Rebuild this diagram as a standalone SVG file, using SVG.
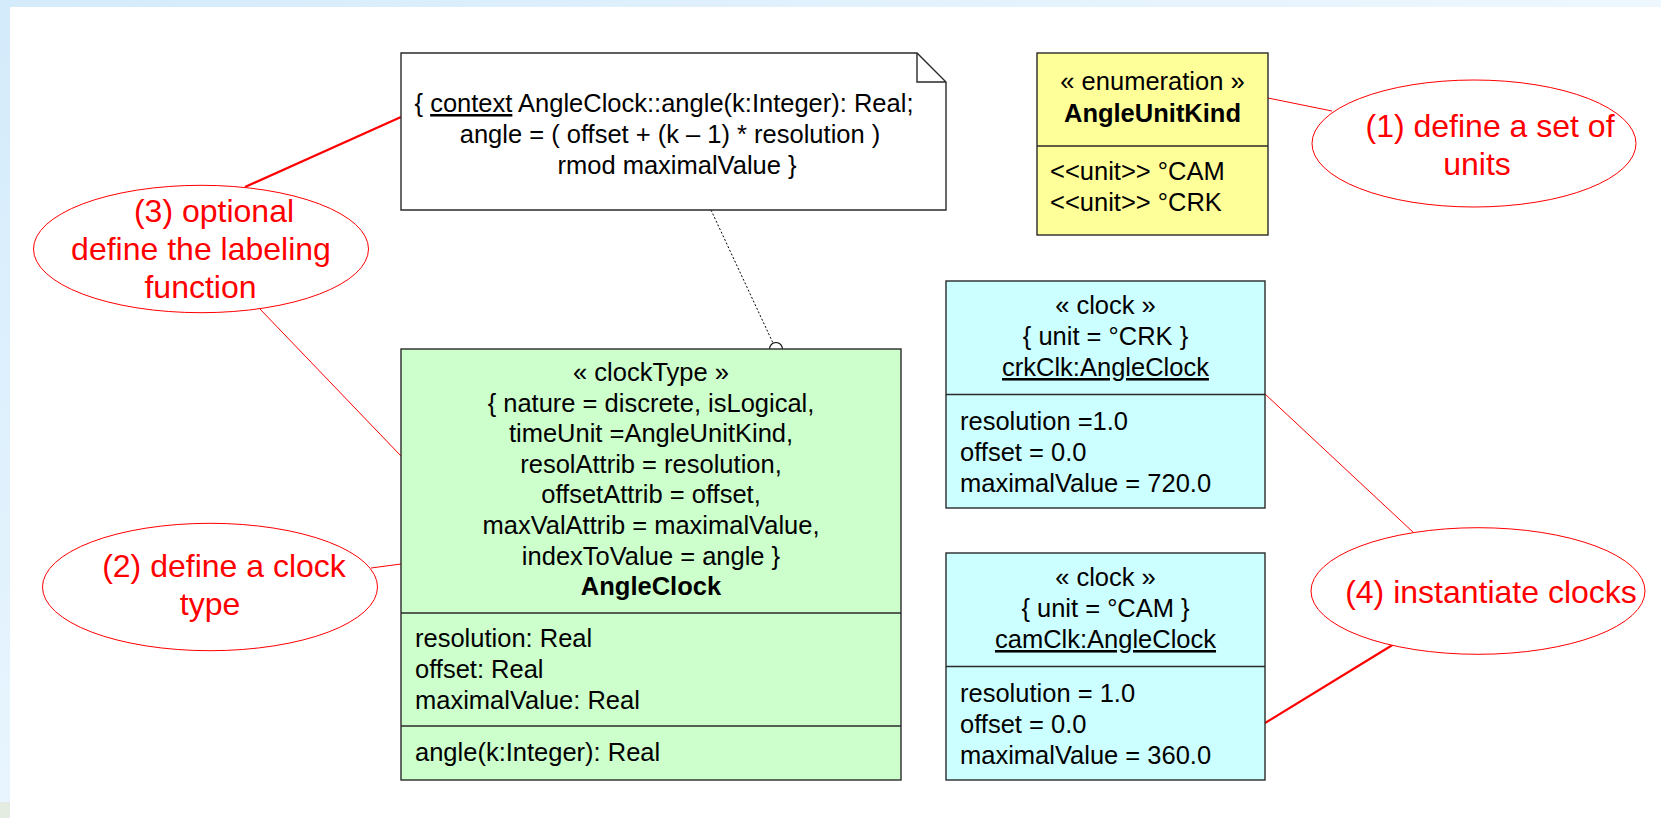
<svg xmlns="http://www.w3.org/2000/svg" width="1661" height="818" viewBox="0 0 1661 818">
<defs>
<linearGradient id="topband" x1="0" y1="0" x2="1" y2="0">
<stop offset="0" stop-color="#d4ebfb"/>
<stop offset="1" stop-color="#eef7fe"/>
</linearGradient>
<linearGradient id="leftband" x1="0" y1="0" x2="0" y2="1">
<stop offset="0" stop-color="#d4ebfb"/>
<stop offset="1" stop-color="#e8f5fe"/>
</linearGradient>
<style>
.t{font-family:"Liberation Sans",Arial,sans-serif;font-size:25.5px;fill:#000}
.c{text-anchor:middle}
.b{font-weight:bold}
.r{font-family:"Liberation Sans",Arial,sans-serif;font-size:32px;fill:#ff0000;text-anchor:middle}
.box{stroke:#2a2a2a;stroke-width:1.4}
.ell{fill:#fff;stroke:#ff0000;stroke-width:1}
.thin{stroke:#ff0000;stroke-width:1;fill:none}
.thick{stroke:#ff0000;stroke-width:2.2;fill:none}
</style>
</defs>
<rect x="0" y="0" width="1661" height="818" fill="#ffffff"/>
<rect x="0" y="0" width="1661" height="7" fill="url(#topband)"/>
<rect x="0" y="0" width="10" height="802" fill="url(#leftband)"/>
<rect x="0" y="802" width="10" height="16" fill="#e4ebe0"/>

<g id="connectors">
<line class="thick" x1="245" y1="187" x2="401" y2="117"/>
<line class="thin" x1="260" y1="309" x2="401" y2="456"/>
<line class="thin" x1="371" y1="568" x2="401" y2="564"/>
<line class="thin" x1="1268" y1="98" x2="1332" y2="111"/>
<line class="thin" x1="1265" y1="394" x2="1414" y2="533"/>
<line class="thick" x1="1265" y1="723" x2="1399" y2="641"/>
<line x1="711" y1="210" x2="773" y2="343" stroke="#000" stroke-width="1" stroke-dasharray="2,2"/>
<circle cx="776" cy="349" r="6.5" fill="none" stroke="#000" stroke-width="1.2"/>
</g>

<g id="note">
<path class="box" fill="#ffffff" d="M401,53 H917 L946,82 V210 H401 Z"/>
<path class="box" fill="none" d="M917,53 V82 H946"/>
<text class="t c" x="664" y="112">{ <tspan text-decoration="underline">context</tspan> AngleClock::angle(k:Integer): Real;</text>
<text class="t c" x="670" y="143">angle = ( offset + (k – 1) * resolution )</text>
<text class="t c" x="677" y="174">rmod maximalValue }</text>
</g>

<g id="AngleUnitKind">
<rect class="box" x="1037" y="53" width="231" height="182" fill="#ffff99"/>
<line class="box" x1="1037" y1="146" x2="1268" y2="146"/>
<text class="t c" x="1152.5" y="90">« enumeration »</text>
<text class="t c b" x="1152.5" y="122">AngleUnitKind</text>
<text class="t" x="1050" y="180">&lt;&lt;unit&gt;&gt; °CAM</text>
<text class="t" x="1050" y="211">&lt;&lt;unit&gt;&gt; °CRK</text>
</g>

<g id="AngleClock">
<rect class="box" x="401" y="349" width="500" height="431" fill="#ccffcc"/>
<line class="box" x1="401" y1="613" x2="901" y2="613"/>
<line class="box" x1="401" y1="726" x2="901" y2="726"/>
<text class="t c" x="651" y="381">« clockType »</text>
<text class="t c" x="651" y="411.6">{ nature = discrete, isLogical,</text>
<text class="t c" x="651" y="442.2">timeUnit =AngleUnitKind,</text>
<text class="t c" x="651" y="472.8">resolAttrib = resolution,</text>
<text class="t c" x="651" y="503.4">offsetAttrib = offset,</text>
<text class="t c" x="651" y="534">maxValAttrib = maximalValue,</text>
<text class="t c" x="651" y="564.6">indexToValue = angle }</text>
<text class="t c b" x="651" y="595.2">AngleClock</text>
<text class="t" x="415" y="647">resolution: Real</text>
<text class="t" x="415" y="678">offset: Real</text>
<text class="t" x="415" y="709">maximalValue: Real</text>
<text class="t" x="415" y="761">angle(k:Integer): Real</text>
</g>

<g id="crkClk">
<rect class="box" x="946" y="281" width="319" height="227" fill="#ccffff"/>
<line class="box" x1="946" y1="394.5" x2="1265" y2="394.5"/>
<text class="t c" x="1105.5" y="313.5">« clock »</text>
<text class="t c" x="1105.5" y="345">{ unit = °CRK }</text>
<text class="t c" x="1105.5" y="376" text-decoration="underline">crkClk:AngleClock</text>
<text class="t" x="960" y="429.5">resolution =1.0</text>
<text class="t" x="960" y="461">offset = 0.0</text>
<text class="t" x="960" y="492">maximalValue = 720.0</text>
</g>

<g id="camClk">
<rect class="box" x="946" y="553" width="319" height="227" fill="#ccffff"/>
<line class="box" x1="946" y1="666.5" x2="1265" y2="666.5"/>
<text class="t c" x="1105.5" y="585.5">« clock »</text>
<text class="t c" x="1105.5" y="617">{ unit = °CAM }</text>
<text class="t c" x="1105.5" y="648" text-decoration="underline">camClk:AngleClock</text>
<text class="t" x="960" y="701.5">resolution = 1.0</text>
<text class="t" x="960" y="733">offset = 0.0</text>
<text class="t" x="960" y="764">maximalValue = 360.0</text>
</g>

<g id="callout1">
<ellipse class="ell" cx="1474" cy="143.5" rx="162" ry="63.5"/>
<text class="r" x="1490" y="137">(1) define a set of</text>
<text class="r" x="1477" y="175">units</text>
</g>

<g id="callout2">
<ellipse class="ell" cx="210" cy="587" rx="167.5" ry="63.7"/>
<text class="r" x="224" y="577">(2) define a clock</text>
<text class="r" x="210" y="615">type</text>
</g>

<g id="callout3">
<ellipse class="ell" cx="201" cy="249" rx="167.5" ry="63.7"/>
<text class="r" x="214" y="222">(3) optional</text>
<text class="r" x="201" y="260">define the labeling</text>
<text class="r" x="200.5" y="298">function</text>
</g>

<g id="callout4">
<ellipse class="ell" cx="1478" cy="591" rx="167" ry="63.3"/>
<text class="r" x="1491" y="603">(4) instantiate clocks</text>
</g>
</svg>
